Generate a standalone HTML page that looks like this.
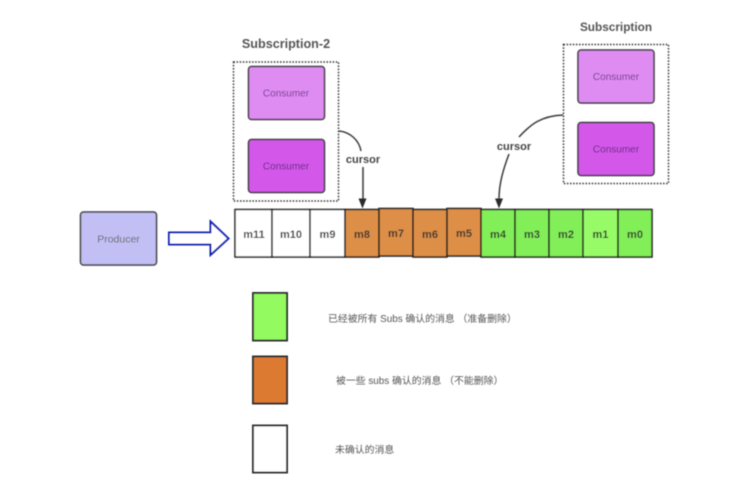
<!DOCTYPE html>
<html><head><meta charset="utf-8"><style>
html,body{margin:0;padding:0;background:#fff}
svg{display:block}
text{font-family:"Liberation Sans","Noto Sans CJK SC",sans-serif;text-anchor:middle;fill:#333}
</style></head><body>
<svg width="752" height="502" viewBox="0 0 752 502" xmlns="http://www.w3.org/2000/svg">
<defs><filter id="b" filterUnits="userSpaceOnUse" x="0" y="0" width="752" height="502"><feGaussianBlur stdDeviation="0.4"/></filter></defs>
<rect width="752" height="502" fill="#fff"/>
<g filter="url(#b)">
<text x="286" y="48" font-size="12.600" font-weight="bold" style="fill:#555">Subscription-2</text>
<text x="616" y="31" font-size="11.800" font-weight="bold" style="fill:#555">Subscription</text>

<rect x="233.500" y="62" width="105" height="139" fill="none" stroke="#333" stroke-width="1.500" stroke-dasharray="1.500 1.600"/>
<rect x="563.500" y="44.500" width="105" height="139" fill="none" stroke="#333" stroke-width="1.500" stroke-dasharray="1.500 1.600"/>

<g stroke="#3a3a3a" stroke-width="1.500">
<rect x="248.500" y="66.500" width="76" height="53" rx="3" fill="#df8cf2"/>
<rect x="248.500" y="139.500" width="76" height="53" rx="3" fill="#d358ea"/>
<rect x="578" y="50" width="76" height="53" rx="3" fill="#df8cf2"/>
<rect x="578" y="122.500" width="76" height="53" rx="3" fill="#d358ea"/>
<rect x="80.500" y="212" width="76" height="53" rx="3" fill="#c2bff4"/>
</g>
<g font-size="10">
<text x="286" y="96.500" style="fill:#70358a">Consumer</text>
<text x="286" y="169.500" style="fill:#632580">Consumer</text>
<text x="616" y="80" style="fill:#70358a">Consumer</text>
<text x="616" y="152.500" style="fill:#632580">Consumer</text>
<text x="118.500" y="242.500" font-size="10.500" style="fill:#666">Producer</text>
</g>

<path d="M169 232.500H210.500V221.500L228.500 238.500L210.500 255V244.500H169Z" fill="#fff" stroke="#0f22b4" stroke-width="2"/>

<g stroke="#1a1a1a" stroke-width="1.500">
<rect x="235" y="209.500" width="37" height="47.500" fill="#fff"/>
<rect x="272" y="209.500" width="38" height="47.500" fill="#fff"/>
<rect x="310" y="209.500" width="35" height="47.500" fill="#fff"/>
<rect x="345" y="209.500" width="34" height="47.500" fill="#dd8f47"/>
<rect x="379" y="208.500" width="34" height="47.500" fill="#dd8f47"/>
<rect x="413" y="209.500" width="34" height="47.500" fill="#dd8f47"/>
<rect x="447" y="208.500" width="34" height="47.500" fill="#dd8f47"/>
<rect x="481" y="209.500" width="34" height="47.500" fill="#82ef58"/>
<rect x="515" y="209.500" width="34" height="47.500" fill="#82ef58"/>
<rect x="549" y="209.500" width="34" height="47.500" fill="#82ef58"/>
<rect x="583" y="209.500" width="35" height="47.500" fill="#97fb68"/>
<rect x="618" y="209.500" width="34" height="47.500" fill="#82ef58"/>
</g>
<g font-size="11" font-weight="bold">
<text x="254" y="238">m11</text>
<text x="291" y="238">m10</text>
<text x="327.500" y="238">m9</text>
<text x="362" y="238">m8</text>
<text x="396" y="237">m7</text>
<text x="430" y="238">m6</text>
<text x="464" y="237">m5</text>
<text x="498" y="238">m4</text>
<text x="532" y="238">m3</text>
<text x="566" y="238">m2</text>
<text x="600.500" y="238">m1</text>
<text x="635" y="238">m0</text>
</g>

<g fill="none" stroke="#3a3a3a" stroke-width="1.500">
<path d="M339 131C350 132 359 140 361 151"/>
<path d="M363 167V199"/>
<path d="M563 115C541 116 531 124 519 137"/>
<path d="M509 154C503 170 499 184 499 199"/>
</g>
<path d="M358.500 198.500H366.500L362.500 208.500Z" fill="#2a2a2a"/>
<path d="M495 198.500H503L499 208.500Z" fill="#2a2a2a"/>
<text x="363" y="163" font-size="11" font-weight="bold" style="fill:#444">cursor</text>
<text x="514" y="150" font-size="11" font-weight="bold" style="fill:#444">cursor</text>

<g stroke="#333" stroke-width="2">
<rect x="253" y="293" width="34" height="47.500" fill="#93fb5e"/>
<rect x="253" y="356.500" width="34" height="47" fill="#dc7a30"/>
<rect x="253" y="425.500" width="34" height="47" fill="#fff"/>
</g>
<g font-size="9.900">
<text x="328" y="322" style="text-anchor:start;fill:#555">已经被所有 Subs 确认的消息 （准备删除）</text>
<text x="336" y="384" style="text-anchor:start;fill:#555">被一些 subs 确认的消息 （不能删除）</text>
<text x="335" y="453" style="text-anchor:start;fill:#555">未确认的消息</text>
</g>
</g>
</svg>
</body></html>
